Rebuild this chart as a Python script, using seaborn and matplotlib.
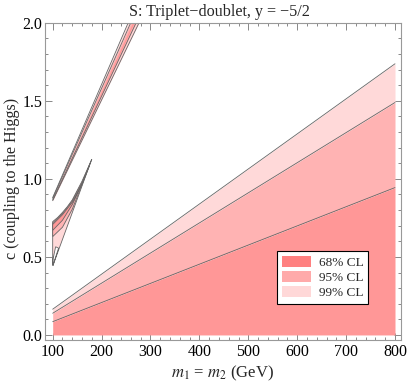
import numpy as np
import matplotlib
matplotlib.use("Agg")
import matplotlib.pyplot as plt
import seaborn as sns
from matplotlib.patches import Patch
from matplotlib.ticker import MultipleLocator, FormatStrFormatter

# ---------------- data ----------------
# lower allowed region: straight boundaries
m_lin = [100, 800]
c68_lin = [0.085, 0.944]
c95_lin = [0.139, 1.489]
c99_lin = [0.165, 1.737]

# upper narrow strip (lines continue above the frame)
strip_m = [100, 290]
strip99_lo = [0.860, 2.086]
strip99_hi = [0.880, 2.258]
strip95_lo = [0.865, 2.129]
strip95_hi = [0.875, 2.214]
strip68_lo = [0.869, 2.160]
strip68_hi = [0.871, 2.185]

# wedge region (outline polygons)
wedge99_m = [100, 110, 120, 130, 140, 150, 160, 170, 180, 160, 140, 122, 100.3, 112, 106, 101, 100]
wedge99_c = [0.726, 0.752, 0.785, 0.822, 0.865, 0.925, 0.985, 1.055, 1.126, 0.955, 0.783, 0.629, 0.443, 0.556, 0.565, 0.490, 0.450]
wedge95_m = [100, 120, 140, 160, 178, 160, 140, 120, 100]
wedge95_c = [0.718, 0.778, 0.858, 0.978, 1.110, 0.962, 0.805, 0.690, 0.630]
wedge68_m = [100, 120, 140, 160, 175, 160, 140, 120, 100]
wedge68_c = [0.708, 0.770, 0.850, 0.970, 1.085, 0.965, 0.835, 0.735, 0.670]

levels = ["68% CL", "95% CL", "99% CL"]
fill_colors = ["#ff9797", "#ffb3b3", "#ffd9d9"]
legend_colors = ["#ff8080", "#ffaaaa", "#ffd8d8"]

title = "S: Triplet\u2212doublet, y = \u22125/2"
xlabel = r"$m_1$ = $m_2$ (GeV)"
ylabel = "c (coupling to the Higgs)"

# ---------------- style ----------------
sns.set_theme(style="ticks")
plt.rcParams["font.family"] = ["Liberation Serif", "DejaVu Serif"]
plt.rcParams["mathtext.fontset"] = "stix"
plt.rcParams["axes.unicode_minus"] = True

fig = plt.figure(figsize=(4.07, 3.85), dpi=100)
ax = fig.add_axes([0.1106, 0.117, 0.8747, 0.824])

edge = "#666666"
lw = 0.6

# lower region
ax.fill_between(m_lin, 0, c68_lin, color=fill_colors[0], lw=0)
ax.fill_between(m_lin, c68_lin, c95_lin, color=fill_colors[1], lw=0)
ax.fill_between(m_lin, c95_lin, c99_lin, color=fill_colors[2], lw=0)
for cc in (c68_lin, c95_lin, c99_lin):
    sns.lineplot(x=m_lin, y=cc, ax=ax, color=edge, lw=lw, legend=False)

# upper strip
ax.fill_between(strip_m, strip99_lo, strip99_hi, color=fill_colors[2], lw=0)
ax.fill_between(strip_m, strip95_lo, strip95_hi, color=fill_colors[1], lw=0)
ax.fill_between(strip_m, strip68_lo, strip68_hi, color=fill_colors[0], lw=0)
for cc in (strip99_lo, strip99_hi, strip95_lo, strip95_hi):
    sns.lineplot(x=strip_m, y=cc, ax=ax, color=edge, lw=lw, legend=False)

# wedge
ax.fill(wedge99_m, wedge99_c, facecolor=fill_colors[2], edgecolor=edge, lw=lw)
ax.fill(wedge95_m, wedge95_c, facecolor=fill_colors[1], edgecolor=edge, lw=lw)
ax.fill(wedge68_m, wedge68_c, facecolor=fill_colors[0], edgecolor=edge, lw=lw)

ax.set_xlim(84.3, 812.3)
ax.set_ylim(-0.032, 2.0)
ax.set_xlabel("")
ax.set_ylabel("")

ax.xaxis.set_major_locator(MultipleLocator(100))
ax.xaxis.set_minor_locator(MultipleLocator(20))
ax.yaxis.set_major_locator(MultipleLocator(0.5))
ax.yaxis.set_minor_locator(MultipleLocator(0.1))
ax.yaxis.set_major_formatter(FormatStrFormatter("%.1f"))
ax.xaxis.set_major_formatter(FormatStrFormatter("%d"))

ax.tick_params(which="both", direction="in", top=True, right=True,
               color="#888888", labelsize=11.5, labelcolor="black", width=0.7)
ax.tick_params(which="major", length=5, pad=3)
ax.tick_params(axis="y", which="major", pad=2)
ax.tick_params(which="minor", length=2.5)
for s in ax.spines.values():
    s.set_color("#999999")
    s.set_linewidth(0.8)

handles = [Patch(facecolor=c, edgecolor="none") for c in legend_colors]
leg = ax.legend(handles, levels, loc="upper left", bbox_to_anchor=(0.652, 0.2805),
                fontsize=9.5, frameon=True, fancybox=False, framealpha=1,
                edgecolor="black", handlelength=2.2, handleheight=0.95,
                labelspacing=0.15, borderpad=0.35, handletextpad=0.6,
                borderaxespad=0)
leg.get_frame().set_linewidth(0.8)

fig.text(219 / 407, 1 - 12 / 385, title, ha="center", va="center", fontsize=11.6)
fig.text(222 / 407, 1 - 373 / 385, xlabel, ha="center", va="center", fontsize=12)
fig.text(12 / 407, 1 - 178 / 385, ylabel, ha="center", va="center", fontsize=11.6,
         rotation=90)

fig.savefig("out.png", dpi=100)
